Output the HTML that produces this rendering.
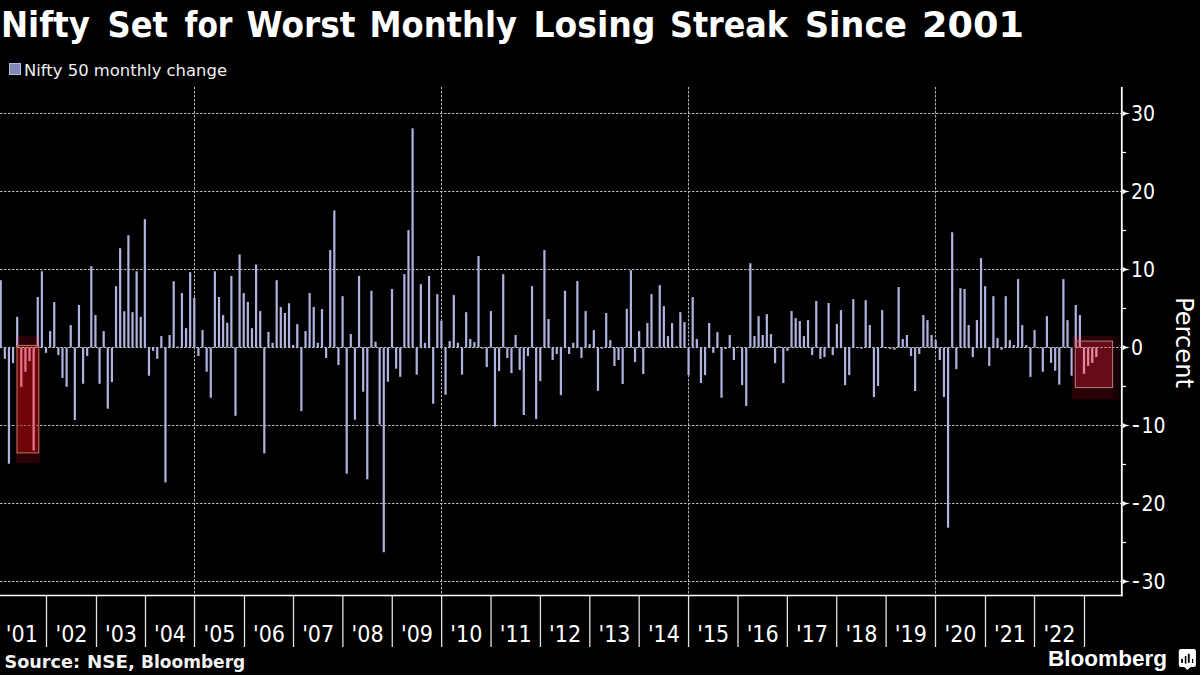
<!DOCTYPE html>
<html><head><meta charset="utf-8"><title>Nifty Set for Worst Monthly Losing Streak Since 2001</title>
<style>html,body{margin:0;padding:0;background:#000;}body{width:1200px;height:675px;overflow:hidden;position:relative;}svg{position:absolute;left:0;top:0;display:block;}</style>
</head><body>
<svg width="1200" height="675" viewBox="0 0 1200 675">
<rect x="0" y="0" width="1200" height="675" fill="#000"/>
<rect x="1112.8" y="336" width="6.6" height="63.5" fill="#180004"/>
<g font-family="DejaVu Sans, Liberation Sans, sans-serif" font-weight="bold" font-size="36" fill="#fff" transform="translate(0,36.9)"><text x="1.00" textLength="88.94" lengthAdjust="spacingAndGlyphs">Nifty</text><text x="107.50" textLength="60.46" lengthAdjust="spacingAndGlyphs">Set</text><text x="184.50" textLength="48.00" lengthAdjust="spacingAndGlyphs">for</text><text x="246.50" textLength="108.97" lengthAdjust="spacingAndGlyphs">Worst</text><text x="369.50" textLength="147.47" lengthAdjust="spacingAndGlyphs">Monthly</text><text x="533.50" textLength="122.04" lengthAdjust="spacingAndGlyphs">Losing</text><text x="670.00" textLength="117.97" lengthAdjust="spacingAndGlyphs">Streak</text><text x="805.00" textLength="101.97" lengthAdjust="spacingAndGlyphs">Since</text><text x="922.00" textLength="102.00" lengthAdjust="spacingAndGlyphs">2001</text></g>
<rect x="9.5" y="63.5" width="11" height="11" fill="#8189b9" stroke="#b5badf" stroke-width="1"/>
<text x="24" y="75.6" font-family="DejaVu Sans, Liberation Sans, sans-serif" font-size="16.5" fill="#f0f0f0" textLength="203" lengthAdjust="spacingAndGlyphs">Nifty 50 monthly change</text>
<g stroke="#b8b8b8" stroke-width="1" stroke-dasharray="2.5 1.5" fill="none"><line x1="0" y1="113.50" x2="1121" y2="113.50"/><line x1="0" y1="191.50" x2="1121" y2="191.50"/><line x1="0" y1="269.50" x2="1121" y2="269.50"/><line x1="0" y1="347.50" x2="1121" y2="347.50"/><line x1="0" y1="425.50" x2="1121" y2="425.50"/><line x1="0" y1="503.50" x2="1121" y2="503.50"/><line x1="0" y1="581.50" x2="1121" y2="581.50"/><line x1="194.5" y1="87" x2="194.5" y2="595"/><line x1="441.5" y1="87" x2="441.5" y2="595"/><line x1="688.5" y1="87" x2="688.5" y2="595"/><line x1="935.5" y1="87" x2="935.5" y2="595"/></g>
<g fill="#b0b3df"><rect x="-0.40" y="280.19" width="2.2" height="67.31"/><rect x="3.72" y="347.50" width="2.2" height="11.31"/><rect x="7.84" y="347.50" width="2.2" height="116.22"/><rect x="11.96" y="347.50" width="2.2" height="15.60"/><rect x="16.08" y="316.85" width="2.2" height="30.65"/><rect x="20.19" y="347.50" width="2.2" height="39.31"/><rect x="24.31" y="347.50" width="2.2" height="24.18"/><rect x="28.43" y="347.50" width="2.2" height="13.57"/><rect x="32.55" y="347.50" width="2.2" height="102.96"/><rect x="36.67" y="297.03" width="2.2" height="50.47"/><rect x="40.79" y="271.29" width="2.2" height="76.21"/><rect x="44.91" y="347.50" width="2.2" height="5.30"/><rect x="49.03" y="331.12" width="2.2" height="16.38"/><rect x="53.15" y="302.10" width="2.2" height="45.40"/><rect x="57.27" y="347.50" width="2.2" height="7.57"/><rect x="61.38" y="347.50" width="2.2" height="30.42"/><rect x="65.50" y="347.50" width="2.2" height="39.31"/><rect x="69.62" y="325.04" width="2.2" height="22.46"/><rect x="73.74" y="347.50" width="2.2" height="72.46"/><rect x="77.86" y="304.99" width="2.2" height="42.51"/><rect x="81.98" y="347.50" width="2.2" height="36.27"/><rect x="86.10" y="347.50" width="2.2" height="8.50"/><rect x="90.22" y="266.15" width="2.2" height="81.35"/><rect x="94.34" y="315.05" width="2.2" height="32.45"/><rect x="98.46" y="347.50" width="2.2" height="36.27"/><rect x="102.58" y="331.12" width="2.2" height="16.38"/><rect x="106.69" y="347.50" width="2.2" height="61.23"/><rect x="110.81" y="347.50" width="2.2" height="34.55"/><rect x="114.93" y="286.19" width="2.2" height="61.31"/><rect x="119.05" y="248.21" width="2.2" height="99.29"/><rect x="123.17" y="311.23" width="2.2" height="36.27"/><rect x="127.29" y="235.18" width="2.2" height="112.32"/><rect x="131.41" y="312.17" width="2.2" height="35.33"/><rect x="135.53" y="271.29" width="2.2" height="76.21"/><rect x="139.65" y="316.85" width="2.2" height="30.65"/><rect x="143.76" y="219.11" width="2.2" height="128.39"/><rect x="147.88" y="347.50" width="2.2" height="28.24"/><rect x="152.00" y="347.50" width="2.2" height="3.35"/><rect x="156.12" y="347.50" width="2.2" height="11.31"/><rect x="160.24" y="336.11" width="2.2" height="11.39"/><rect x="164.36" y="347.50" width="2.2" height="134.94"/><rect x="168.48" y="335.02" width="2.2" height="12.48"/><rect x="172.60" y="281.28" width="2.2" height="66.22"/><rect x="176.72" y="346.56" width="2.2" height="0.94"/><rect x="180.84" y="293.06" width="2.2" height="54.44"/><rect x="184.95" y="328.16" width="2.2" height="19.34"/><rect x="189.07" y="272.15" width="2.2" height="75.35"/><rect x="193.19" y="297.81" width="2.2" height="49.69"/><rect x="197.31" y="347.50" width="2.2" height="8.50"/><rect x="201.43" y="330.11" width="2.2" height="17.39"/><rect x="205.55" y="347.50" width="2.2" height="24.26"/><rect x="209.67" y="347.50" width="2.2" height="50.23"/><rect x="213.79" y="271.29" width="2.2" height="76.21"/><rect x="217.91" y="297.03" width="2.2" height="50.47"/><rect x="222.03" y="315.05" width="2.2" height="32.45"/><rect x="226.14" y="322.77" width="2.2" height="24.73"/><rect x="230.26" y="275.90" width="2.2" height="71.60"/><rect x="234.38" y="347.50" width="2.2" height="68.25"/><rect x="238.50" y="254.45" width="2.2" height="93.05"/><rect x="242.62" y="293.06" width="2.2" height="54.44"/><rect x="246.74" y="301.87" width="2.2" height="45.63"/><rect x="250.86" y="328.16" width="2.2" height="19.34"/><rect x="254.98" y="264.51" width="2.2" height="82.99"/><rect x="259.10" y="311.07" width="2.2" height="36.43"/><rect x="263.22" y="347.50" width="2.2" height="105.92"/><rect x="267.33" y="331.82" width="2.2" height="15.68"/><rect x="271.45" y="342.82" width="2.2" height="4.68"/><rect x="275.57" y="280.19" width="2.2" height="67.31"/><rect x="279.69" y="307.02" width="2.2" height="40.48"/><rect x="283.81" y="313.02" width="2.2" height="34.48"/><rect x="287.93" y="303.27" width="2.2" height="44.23"/><rect x="292.05" y="345.00" width="2.2" height="2.50"/><rect x="296.17" y="324.10" width="2.2" height="23.40"/><rect x="300.29" y="347.50" width="2.2" height="63.57"/><rect x="304.41" y="331.04" width="2.2" height="16.46"/><rect x="308.52" y="293.06" width="2.2" height="54.44"/><rect x="312.64" y="307.02" width="2.2" height="40.48"/><rect x="316.76" y="342.82" width="2.2" height="4.68"/><rect x="320.88" y="309.05" width="2.2" height="38.45"/><rect x="325.00" y="347.50" width="2.2" height="10.45"/><rect x="329.12" y="250.08" width="2.2" height="97.42"/><rect x="333.24" y="210.45" width="2.2" height="137.05"/><rect x="337.36" y="347.50" width="2.2" height="17.55"/><rect x="341.48" y="296.18" width="2.2" height="51.32"/><rect x="345.60" y="347.50" width="2.2" height="126.20"/><rect x="349.71" y="334.08" width="2.2" height="13.42"/><rect x="353.83" y="347.50" width="2.2" height="72.23"/><rect x="357.95" y="275.90" width="2.2" height="71.60"/><rect x="362.07" y="347.50" width="2.2" height="44.23"/><rect x="366.19" y="347.50" width="2.2" height="131.82"/><rect x="370.31" y="290.79" width="2.2" height="56.71"/><rect x="374.43" y="341.73" width="2.2" height="5.77"/><rect x="378.55" y="347.50" width="2.2" height="77.14"/><rect x="382.67" y="347.50" width="2.2" height="204.75"/><rect x="386.79" y="347.50" width="2.2" height="34.24"/><rect x="390.90" y="289.00" width="2.2" height="58.50"/><rect x="395.02" y="347.50" width="2.2" height="21.14"/><rect x="399.14" y="347.50" width="2.2" height="29.33"/><rect x="403.26" y="274.18" width="2.2" height="73.32"/><rect x="407.38" y="230.11" width="2.2" height="117.39"/><rect x="411.50" y="128.32" width="2.2" height="219.18"/><rect x="415.62" y="347.50" width="2.2" height="27.14"/><rect x="419.74" y="284.16" width="2.2" height="63.34"/><rect x="423.86" y="342.82" width="2.2" height="4.68"/><rect x="427.98" y="275.90" width="2.2" height="71.60"/><rect x="432.09" y="347.50" width="2.2" height="56.24"/><rect x="436.21" y="294.15" width="2.2" height="53.35"/><rect x="440.33" y="320.82" width="2.2" height="26.68"/><rect x="444.45" y="347.50" width="2.2" height="47.27"/><rect x="448.57" y="341.03" width="2.2" height="6.47"/><rect x="452.69" y="295.08" width="2.2" height="52.42"/><rect x="456.81" y="342.82" width="2.2" height="4.68"/><rect x="460.93" y="347.50" width="2.2" height="27.14"/><rect x="465.05" y="312.17" width="2.2" height="35.33"/><rect x="469.17" y="339.00" width="2.2" height="8.50"/><rect x="473.28" y="342.12" width="2.2" height="5.38"/><rect x="477.40" y="256.08" width="2.2" height="91.42"/><rect x="481.52" y="347.50" width="2.2" height="1.17"/><rect x="485.64" y="347.50" width="2.2" height="19.58"/><rect x="489.76" y="311.07" width="2.2" height="36.43"/><rect x="493.88" y="347.50" width="2.2" height="79.09"/><rect x="498.00" y="347.50" width="2.2" height="23.56"/><rect x="502.12" y="274.18" width="2.2" height="73.32"/><rect x="506.24" y="347.50" width="2.2" height="10.45"/><rect x="510.36" y="347.50" width="2.2" height="25.58"/><rect x="514.48" y="335.02" width="2.2" height="12.48"/><rect x="518.59" y="347.50" width="2.2" height="22.46"/><rect x="522.71" y="347.50" width="2.2" height="67.55"/><rect x="526.83" y="347.50" width="2.2" height="8.50"/><rect x="530.95" y="286.19" width="2.2" height="61.31"/><rect x="535.07" y="347.50" width="2.2" height="71.53"/><rect x="539.19" y="347.50" width="2.2" height="33.54"/><rect x="543.31" y="250.08" width="2.2" height="97.42"/><rect x="547.43" y="319.03" width="2.2" height="28.47"/><rect x="551.55" y="347.50" width="2.2" height="12.48"/><rect x="555.66" y="347.50" width="2.2" height="6.47"/><rect x="559.78" y="347.50" width="2.2" height="47.58"/><rect x="563.90" y="290.79" width="2.2" height="56.71"/><rect x="568.02" y="347.50" width="2.2" height="6.47"/><rect x="572.14" y="342.82" width="2.2" height="4.68"/><rect x="576.26" y="281.04" width="2.2" height="66.46"/><rect x="580.38" y="347.50" width="2.2" height="10.45"/><rect x="584.50" y="311.07" width="2.2" height="36.43"/><rect x="588.62" y="344.15" width="2.2" height="3.35"/><rect x="592.74" y="330.11" width="2.2" height="17.39"/><rect x="596.86" y="347.50" width="2.2" height="43.29"/><rect x="600.97" y="347.50" width="2.2" height="1.17"/><rect x="605.09" y="313.02" width="2.2" height="34.48"/><rect x="609.21" y="340.17" width="2.2" height="7.33"/><rect x="613.33" y="347.50" width="2.2" height="18.49"/><rect x="617.45" y="347.50" width="2.2" height="12.48"/><rect x="621.57" y="347.50" width="2.2" height="36.50"/><rect x="625.69" y="308.81" width="2.2" height="38.69"/><rect x="629.81" y="270.20" width="2.2" height="77.30"/><rect x="633.93" y="347.50" width="2.2" height="14.51"/><rect x="638.04" y="331.04" width="2.2" height="16.46"/><rect x="642.16" y="347.50" width="2.2" height="26.52"/><rect x="646.28" y="323.01" width="2.2" height="24.49"/><rect x="650.40" y="294.15" width="2.2" height="53.35"/><rect x="654.52" y="347.50" width="2.2" height="0.78"/><rect x="658.64" y="285.10" width="2.2" height="62.40"/><rect x="662.76" y="306.16" width="2.2" height="41.34"/><rect x="666.88" y="336.11" width="2.2" height="11.39"/><rect x="671.00" y="323.01" width="2.2" height="24.49"/><rect x="675.12" y="346.33" width="2.2" height="1.17"/><rect x="679.24" y="312.17" width="2.2" height="35.33"/><rect x="683.35" y="322.15" width="2.2" height="25.35"/><rect x="687.47" y="347.50" width="2.2" height="27.61"/><rect x="691.59" y="297.03" width="2.2" height="50.47"/><rect x="695.71" y="339.00" width="2.2" height="8.50"/><rect x="699.83" y="347.50" width="2.2" height="35.57"/><rect x="703.95" y="347.50" width="2.2" height="27.61"/><rect x="708.07" y="323.01" width="2.2" height="24.49"/><rect x="712.19" y="347.50" width="2.2" height="5.30"/><rect x="716.31" y="332.13" width="2.2" height="15.37"/><rect x="720.42" y="347.50" width="2.2" height="50.23"/><rect x="724.54" y="347.50" width="2.2" height="1.56"/><rect x="728.66" y="335.02" width="2.2" height="12.48"/><rect x="732.78" y="347.50" width="2.2" height="12.48"/><rect x="736.90" y="346.72" width="2.2" height="0.78"/><rect x="741.02" y="347.50" width="2.2" height="37.60"/><rect x="745.14" y="347.50" width="2.2" height="58.42"/><rect x="749.26" y="263.26" width="2.2" height="84.24"/><rect x="753.38" y="336.11" width="2.2" height="11.39"/><rect x="757.50" y="316.14" width="2.2" height="31.36"/><rect x="761.62" y="335.02" width="2.2" height="12.48"/><rect x="765.73" y="314.12" width="2.2" height="33.38"/><rect x="769.85" y="334.08" width="2.2" height="13.42"/><rect x="773.97" y="347.50" width="2.2" height="15.60"/><rect x="778.09" y="346.33" width="2.2" height="1.17"/><rect x="782.21" y="347.50" width="2.2" height="35.57"/><rect x="786.33" y="347.50" width="2.2" height="3.35"/><rect x="790.45" y="311.07" width="2.2" height="36.43"/><rect x="794.57" y="318.09" width="2.2" height="29.41"/><rect x="798.69" y="321.06" width="2.2" height="26.44"/><rect x="802.80" y="336.11" width="2.2" height="11.39"/><rect x="806.92" y="320.12" width="2.2" height="27.38"/><rect x="811.04" y="347.50" width="2.2" height="7.57"/><rect x="815.16" y="301.01" width="2.2" height="46.49"/><rect x="819.28" y="347.50" width="2.2" height="11.31"/><rect x="823.40" y="347.50" width="2.2" height="9.59"/><rect x="827.52" y="303.04" width="2.2" height="44.46"/><rect x="831.64" y="347.50" width="2.2" height="7.57"/><rect x="835.76" y="324.10" width="2.2" height="23.40"/><rect x="839.88" y="310.14" width="2.2" height="37.36"/><rect x="844.00" y="347.50" width="2.2" height="37.60"/><rect x="848.11" y="347.50" width="2.2" height="27.61"/><rect x="852.23" y="299.06" width="2.2" height="48.44"/><rect x="856.35" y="347.50" width="2.2" height="0.60"/><rect x="860.47" y="347.50" width="2.2" height="1.17"/><rect x="864.59" y="300.15" width="2.2" height="47.35"/><rect x="868.71" y="325.04" width="2.2" height="22.46"/><rect x="872.83" y="347.50" width="2.2" height="49.53"/><rect x="876.95" y="347.50" width="2.2" height="38.45"/><rect x="881.07" y="310.14" width="2.2" height="37.36"/><rect x="885.18" y="347.50" width="2.2" height="0.78"/><rect x="889.30" y="347.50" width="2.2" height="1.56"/><rect x="893.42" y="347.50" width="2.2" height="2.26"/><rect x="897.54" y="287.05" width="2.2" height="60.45"/><rect x="901.66" y="339.00" width="2.2" height="8.50"/><rect x="905.78" y="335.02" width="2.2" height="12.48"/><rect x="909.90" y="347.50" width="2.2" height="8.50"/><rect x="914.02" y="347.50" width="2.2" height="43.52"/><rect x="918.14" y="347.50" width="2.2" height="6.47"/><rect x="922.26" y="315.05" width="2.2" height="32.45"/><rect x="926.38" y="320.12" width="2.2" height="27.38"/><rect x="930.49" y="335.02" width="2.2" height="12.48"/><rect x="934.61" y="340.17" width="2.2" height="7.33"/><rect x="938.73" y="347.50" width="2.2" height="12.48"/><rect x="942.85" y="347.50" width="2.2" height="49.53"/><rect x="946.97" y="347.50" width="2.2" height="180.18"/><rect x="951.09" y="232.29" width="2.2" height="115.21"/><rect x="955.21" y="347.50" width="2.2" height="21.61"/><rect x="959.33" y="288.22" width="2.2" height="59.28"/><rect x="963.45" y="289.00" width="2.2" height="58.50"/><rect x="967.56" y="325.04" width="2.2" height="22.46"/><rect x="971.68" y="347.50" width="2.2" height="9.59"/><rect x="975.80" y="320.12" width="2.2" height="27.38"/><rect x="979.92" y="258.11" width="2.2" height="89.39"/><rect x="984.04" y="286.19" width="2.2" height="61.31"/><rect x="988.16" y="347.50" width="2.2" height="18.49"/><rect x="992.28" y="296.18" width="2.2" height="51.32"/><rect x="996.40" y="338.14" width="2.2" height="9.36"/><rect x="1000.52" y="347.50" width="2.2" height="2.26"/><rect x="1004.64" y="296.18" width="2.2" height="51.32"/><rect x="1008.75" y="340.17" width="2.2" height="7.33"/><rect x="1012.87" y="345.00" width="2.2" height="2.50"/><rect x="1016.99" y="279.09" width="2.2" height="68.41"/><rect x="1021.11" y="325.04" width="2.2" height="22.46"/><rect x="1025.23" y="345.00" width="2.2" height="2.50"/><rect x="1029.35" y="347.50" width="2.2" height="29.41"/><rect x="1033.47" y="330.11" width="2.2" height="17.39"/><rect x="1037.59" y="347.50" width="2.2" height="0.78"/><rect x="1041.71" y="347.50" width="2.2" height="24.26"/><rect x="1045.83" y="316.14" width="2.2" height="31.36"/><rect x="1049.95" y="347.50" width="2.2" height="15.37"/><rect x="1054.06" y="347.50" width="2.2" height="23.24"/><rect x="1058.18" y="347.50" width="2.2" height="37.13"/><rect x="1062.30" y="279.09" width="2.2" height="68.41"/><rect x="1066.42" y="320.12" width="2.2" height="27.38"/><rect x="1070.54" y="347.50" width="2.2" height="28.24"/><rect x="1074.66" y="304.99" width="2.2" height="42.51"/><rect x="1078.78" y="315.05" width="2.2" height="32.45"/><rect x="1082.90" y="347.50" width="2.2" height="26.36"/><rect x="1087.02" y="347.50" width="2.2" height="18.41"/><rect x="1091.13" y="347.50" width="2.2" height="15.37"/><rect x="1095.25" y="347.50" width="2.2" height="9.52"/></g>
<defs><clipPath id="co0"><rect x="16.0" y="336.0" width="23.70" height="127.00"/></clipPath><clipPath id="cb0"><rect x="17.0" y="345.4" width="21.80" height="107.50"/></clipPath><clipPath id="co1"><rect x="1072.2" y="336.0" width="40.60" height="63.50"/></clipPath><clipPath id="cb1"><rect x="1075.3" y="341.1" width="37.30" height="46.50"/></clipPath></defs>
<rect x="16.0" y="336.0" width="23.70" height="127.00" fill="#2a0206"/>
<g fill="#c9a0d6" clip-path="url(#co0)"><rect x="11.96" y="347.50" width="2.2" height="15.60"/><rect x="16.08" y="316.85" width="2.2" height="30.65"/><rect x="20.19" y="347.50" width="2.2" height="39.31"/><rect x="24.31" y="347.50" width="2.2" height="24.18"/><rect x="28.43" y="347.50" width="2.2" height="13.57"/><rect x="32.55" y="347.50" width="2.2" height="102.96"/><rect x="36.67" y="297.03" width="2.2" height="50.47"/><rect x="40.79" y="271.29" width="2.2" height="76.21"/></g>
<rect x="17.0" y="345.4" width="21.80" height="107.50" fill="rgb(133,4,12)" fill-opacity="0.78"/>
<g fill="#de7486" clip-path="url(#cb0)"><rect x="11.96" y="347.50" width="2.2" height="15.60"/><rect x="16.08" y="316.85" width="2.2" height="30.65"/><rect x="20.19" y="347.50" width="2.2" height="39.31"/><rect x="24.31" y="347.50" width="2.2" height="24.18"/><rect x="28.43" y="347.50" width="2.2" height="13.57"/><rect x="32.55" y="347.50" width="2.2" height="102.96"/><rect x="36.67" y="297.03" width="2.2" height="50.47"/><rect x="40.79" y="271.29" width="2.2" height="76.21"/></g>
<line x1="18.0" y1="347.5" x2="39.7" y2="347.5" stroke="#c8a0a0" stroke-width="1" stroke-dasharray="2.5 1.5" clip-path="url(#co0)"/>
<line x1="0" y1="425.50" x2="60" y2="425.50" stroke="#a86868" stroke-width="1" stroke-dasharray="2.5 1.5" clip-path="url(#cb0)"/>
<rect x="17.0" y="345.4" width="21.80" height="107.50" fill="none" stroke="#b87a5a" stroke-width="1"/>
<rect x="1072.2" y="336.0" width="40.60" height="63.50" fill="#2a0206"/>
<g fill="#c9a0d6" clip-path="url(#co1)"><rect x="1070.54" y="347.50" width="2.2" height="28.24"/><rect x="1074.66" y="304.99" width="2.2" height="42.51"/><rect x="1078.78" y="315.05" width="2.2" height="32.45"/><rect x="1082.90" y="347.50" width="2.2" height="26.36"/><rect x="1087.02" y="347.50" width="2.2" height="18.41"/><rect x="1091.13" y="347.50" width="2.2" height="15.37"/><rect x="1095.25" y="347.50" width="2.2" height="9.52"/></g>
<rect x="1075.3" y="341.1" width="37.30" height="46.50" fill="rgb(120,12,30)" fill-opacity="0.8"/>
<g fill="#e2869a" clip-path="url(#cb1)"><rect x="1070.54" y="347.50" width="2.2" height="28.24"/><rect x="1074.66" y="304.99" width="2.2" height="42.51"/><rect x="1078.78" y="315.05" width="2.2" height="32.45"/><rect x="1082.90" y="347.50" width="2.2" height="26.36"/><rect x="1087.02" y="347.50" width="2.2" height="18.41"/><rect x="1091.13" y="347.50" width="2.2" height="15.37"/><rect x="1095.25" y="347.50" width="2.2" height="9.52"/></g>
<line x1="1076.3" y1="347.5" x2="1112.8" y2="347.5" stroke="#c8a0a0" stroke-width="1" stroke-dasharray="2.5 1.5" clip-path="url(#co1)"/>
<rect x="1075.3" y="341.1" width="37.30" height="46.50" fill="none" stroke="#a88480" stroke-width="1"/>
<line x1="1121.8" y1="87" x2="1121.8" y2="596.2" stroke="#fff" stroke-width="1.8"/>
<g fill="#fff"><path d="M1122.6,110.90 Q1125,112.70 1129.9,113.60 Q1125,114.50 1122.6,116.20 Z"/><path d="M1122.6,188.90 Q1125,190.70 1129.9,191.60 Q1125,192.50 1122.6,194.20 Z"/><path d="M1122.6,266.90 Q1125,268.70 1129.9,269.60 Q1125,270.50 1122.6,272.20 Z"/><path d="M1122.6,344.90 Q1125,346.70 1129.9,347.60 Q1125,348.50 1122.6,350.20 Z"/><path d="M1122.6,422.90 Q1125,424.70 1129.9,425.60 Q1125,426.50 1122.6,428.20 Z"/><path d="M1122.6,500.90 Q1125,502.70 1129.9,503.60 Q1125,504.50 1122.6,506.20 Z"/><path d="M1122.6,578.90 Q1125,580.70 1129.9,581.60 Q1125,582.50 1122.6,584.20 Z"/></g>
<g stroke="#fff" stroke-width="1.2"><line x1="1122" y1="152.50" x2="1126" y2="152.50"/><line x1="1122" y1="230.50" x2="1126" y2="230.50"/><line x1="1122" y1="308.50" x2="1126" y2="308.50"/><line x1="1122" y1="386.50" x2="1126" y2="386.50"/><line x1="1122" y1="464.50" x2="1126" y2="464.50"/><line x1="1122" y1="542.50" x2="1126" y2="542.50"/></g>
<g font-family="DejaVu Sans Condensed, DejaVu Sans, Liberation Sans, sans-serif" font-stretch="condensed" font-size="21" fill="#fff"><text x="1131" y="121.20" textLength="24.04" lengthAdjust="spacingAndGlyphs">30</text><text x="1131" y="199.20" textLength="24.04" lengthAdjust="spacingAndGlyphs">20</text><text x="1131" y="277.20" textLength="24.04" lengthAdjust="spacingAndGlyphs">10</text><text x="1131" y="355.20" textLength="12.02" lengthAdjust="spacingAndGlyphs">0</text><text y="433.20"><tspan x="1132.1" font-size="24">-</tspan><tspan x="1141.4" textLength="24.05" lengthAdjust="spacingAndGlyphs">10</tspan></text><text y="511.20"><tspan x="1132.1" font-size="24">-</tspan><tspan x="1141.4" textLength="24.05" lengthAdjust="spacingAndGlyphs">20</tspan></text><text y="589.20"><tspan x="1132.1" font-size="24">-</tspan><tspan x="1141.4" textLength="24.05" lengthAdjust="spacingAndGlyphs">30</tspan></text></g>
<text transform="translate(1175.6,297) rotate(90)" font-family="DejaVu Sans Condensed, DejaVu Sans, Liberation Sans, sans-serif" font-stretch="condensed" font-size="24.5" fill="#fff" textLength="91" lengthAdjust="spacingAndGlyphs">Percent</text>
<line x1="0" y1="595.5" x2="1122.7" y2="595.5" stroke="#fff" stroke-width="1.5"/>
<g stroke="#e0e0e0" stroke-width="1.3"><line x1="46.50" y1="595.5" x2="46.50" y2="647"/><line x1="96.50" y1="595.5" x2="96.50" y2="647"/><line x1="145.50" y1="595.5" x2="145.50" y2="647"/><line x1="194.50" y1="595.5" x2="194.50" y2="647"/><line x1="244.50" y1="595.5" x2="244.50" y2="647"/><line x1="293.50" y1="595.5" x2="293.50" y2="647"/><line x1="342.88" y1="595.5" x2="342.88" y2="647"/><line x1="392.27" y1="595.5" x2="392.27" y2="647"/><line x1="441.65" y1="595.5" x2="441.65" y2="647"/><line x1="491.04" y1="595.5" x2="491.04" y2="647"/><line x1="540.42" y1="595.5" x2="540.42" y2="647"/><line x1="589.81" y1="595.5" x2="589.81" y2="647"/><line x1="639.19" y1="595.5" x2="639.19" y2="647"/><line x1="688.58" y1="595.5" x2="688.58" y2="647"/><line x1="737.96" y1="595.5" x2="737.96" y2="647"/><line x1="787.35" y1="595.5" x2="787.35" y2="647"/><line x1="836.73" y1="595.5" x2="836.73" y2="647"/><line x1="886.12" y1="595.5" x2="886.12" y2="647"/><line x1="935.50" y1="595.5" x2="935.50" y2="647"/><line x1="985.50" y1="595.5" x2="985.50" y2="647"/><line x1="1034.50" y1="595.5" x2="1034.50" y2="647"/><line x1="1084.50" y1="595.5" x2="1084.50" y2="647"/></g>
<g font-family="DejaVu Sans Condensed, DejaVu Sans, Liberation Sans, sans-serif" font-stretch="condensed" font-size="23" fill="#fff" text-anchor="middle"><text x="21.80" y="642.1" textLength="32" lengthAdjust="spacingAndGlyphs">'01</text><text x="71.50" y="642.1" textLength="32" lengthAdjust="spacingAndGlyphs">'02</text><text x="121.00" y="642.1" textLength="32" lengthAdjust="spacingAndGlyphs">'03</text><text x="170.00" y="642.1" textLength="32" lengthAdjust="spacingAndGlyphs">'04</text><text x="219.50" y="642.1" textLength="32" lengthAdjust="spacingAndGlyphs">'05</text><text x="269.00" y="642.1" textLength="32" lengthAdjust="spacingAndGlyphs">'06</text><text x="318.19" y="642.1" textLength="32" lengthAdjust="spacingAndGlyphs">'07</text><text x="367.58" y="642.1" textLength="32" lengthAdjust="spacingAndGlyphs">'08</text><text x="416.96" y="642.1" textLength="32" lengthAdjust="spacingAndGlyphs">'09</text><text x="466.35" y="642.1" textLength="32" lengthAdjust="spacingAndGlyphs">'10</text><text x="515.73" y="642.1" textLength="32" lengthAdjust="spacingAndGlyphs">'11</text><text x="565.12" y="642.1" textLength="32" lengthAdjust="spacingAndGlyphs">'12</text><text x="614.50" y="642.1" textLength="32" lengthAdjust="spacingAndGlyphs">'13</text><text x="663.88" y="642.1" textLength="32" lengthAdjust="spacingAndGlyphs">'14</text><text x="713.27" y="642.1" textLength="32" lengthAdjust="spacingAndGlyphs">'15</text><text x="762.65" y="642.1" textLength="32" lengthAdjust="spacingAndGlyphs">'16</text><text x="812.04" y="642.1" textLength="32" lengthAdjust="spacingAndGlyphs">'17</text><text x="861.42" y="642.1" textLength="32" lengthAdjust="spacingAndGlyphs">'18</text><text x="910.81" y="642.1" textLength="32" lengthAdjust="spacingAndGlyphs">'19</text><text x="960.50" y="642.1" textLength="32" lengthAdjust="spacingAndGlyphs">'20</text><text x="1010.00" y="642.1" textLength="32" lengthAdjust="spacingAndGlyphs">'21</text><text x="1059.50" y="642.1" textLength="32" lengthAdjust="spacingAndGlyphs">'22</text></g>
<g font-family="DejaVu Sans, Liberation Sans, sans-serif" font-weight="bold" font-size="17.8" fill="#f2f2f2" transform="translate(0,668.2)"><text x="4.50" textLength="75.51" lengthAdjust="spacingAndGlyphs">Source:</text><text x="87.00" textLength="48.02" lengthAdjust="spacingAndGlyphs">NSE,</text><text x="141.00" textLength="104.23" lengthAdjust="spacingAndGlyphs">Bloomberg</text></g>
<text x="1048" y="666.3" font-family="Liberation Sans, DejaVu Sans, sans-serif" font-weight="bold" font-size="22" fill="#fff" textLength="119" lengthAdjust="spacingAndGlyphs">Bloomberg</text>
<path d="M1180.8,649.1 H1193.9 Q1195.9,649.1 1195.9,651.1 V664.9 Q1195.9,666.9 1193.9,666.9 H1190.6 L1187.4,670 L1184.2,666.9 H1180.8 Q1178.8,666.9 1178.8,664.9 V651.1 Q1178.8,649.1 1180.8,649.1 Z" fill="#fff"/>
<g fill="#000"><rect x="1181.1" y="658.9" width="1.9" height="3.9"/><rect x="1184.8" y="656" width="1.6" height="7.6"/><rect x="1187.9" y="653.7" width="1.8" height="9.1"/><rect x="1192" y="658.9" width="1.2" height="4.1"/></g>
</svg></body></html>
